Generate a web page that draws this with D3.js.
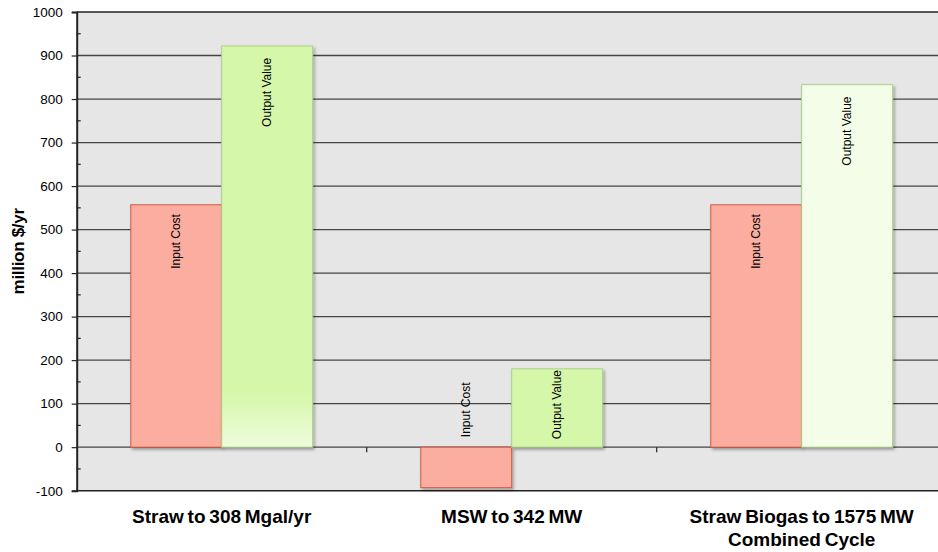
<!DOCTYPE html>
<html>
<head>
<meta charset="utf-8">
<script src="https://cdn.jsdelivr.net/npm/d3@7"></script>
<style>
  html, body { margin: 0; padding: 0; background: #ffffff; }
  svg { display: block; font-family: "Liberation Sans", Arial, sans-serif; }
</style>
</head>
<body>
<svg id="chart" width="938" height="552"></svg>
<script>
// Annual input cost vs. output value for three conversion pathways
const categories = [
  ["Straw to 308 Mgal/yr"],
  ["MSW to 342 MW"],
  ["Straw Biogas to 1575 MW", "Combined Cycle"]
];
const inputCost = [557, -93, 557];
const outputValue = [922, 180, 833];
const seriesNames = ["Input Cost", "Output Value"];
const yTicks = [-100, 0, 100, 200, 300, 400, 500, 600, 700, 800, 900, 1000];
const yTitle = "million $/yr";

const svg = d3.select("#chart");
const W = 938, H = 552;
const plot = { left: 76.7, right: 946.7, top: 12, bottom: 490.7 };

const y = d3.scaleLinear().domain([-100, 1000]).range([plot.bottom, plot.top]);
const x0 = d3.scaleBand().domain(d3.range(categories.length)).range([plot.left, plot.right]);
const bw = x0.bandwidth();
const x1 = d3.scaleBand().domain(seriesNames)
  .range([bw * 0.1865, bw * 0.8135]);

const defs = svg.append("defs");
const sh = defs.append("filter").attr("id", "shadow")
  .attr("x", "-10%").attr("y", "-10%").attr("width", "130%").attr("height", "130%");
sh.append("feDropShadow").attr("dx", 1.5).attr("dy", 2).attr("stdDeviation", 1.5)
  .attr("flood-color", "#000").attr("flood-opacity", 0.35);

const grad = defs.append("linearGradient").attr("id", "fadeGreen")
  .attr("x1", 0).attr("y1", 0).attr("x2", 0).attr("y2", 1);
grad.append("stop").attr("offset", "0.86").attr("stop-color", "#d5f7a9");
grad.append("stop").attr("offset", "1").attr("stop-color", "#eefcdd");

// plot background
svg.append("rect")
  .attr("x", plot.left).attr("y", plot.top)
  .attr("width", plot.right - plot.left).attr("height", plot.bottom - plot.top)
  .attr("fill", "#e6e6e6");

// horizontal gridlines
svg.append("g").selectAll("line")
  .data(yTicks.filter(t => t > -100 && t < 1000))
  .join("line")
  .attr("x1", plot.left).attr("x2", plot.right)
  .attr("y1", d => y(d)).attr("y2", d => y(d))
  .attr("stroke", "#444").attr("stroke-width", 1.3);

// top and bottom frame
svg.append("line").attr("x1", plot.left).attr("x2", plot.right)
  .attr("y1", plot.top).attr("y2", plot.top).attr("stroke", "#222").attr("stroke-width", 1.6);
svg.append("line").attr("x1", plot.left).attr("x2", plot.right)
  .attr("y1", plot.bottom).attr("y2", plot.bottom).attr("stroke", "#222").attr("stroke-width", 1.6);

// bars
const fills = (s, i) => {
  if (s === "Input Cost") return "#fbad9f";
  if (i === 0) return "url(#fadeGreen)";
  if (i === 2) return "#f3fde8";
  return "#d5f7a9";
};
const strokes = s => s === "Input Cost" ? "#cd5a43" : "#aed08a";

const rows = [];
categories.forEach((c, i) => {
  rows.push({ i, s: "Input Cost", v: inputCost[i] });
  rows.push({ i, s: "Output Value", v: outputValue[i] });
});

const barG = svg.append("g");
barG.selectAll("rect").data(rows).join("rect")
  .attr("x", d => x0(d.i) + x1(d.s))
  .attr("width", x1.bandwidth())
  .attr("y", d => y(Math.max(0, d.v)))
  .attr("height", d => Math.abs(y(d.v) - y(0)))
  .attr("fill", d => fills(d.s, d.i))
  .attr("stroke", d => strokes(d.s))
  .attr("stroke-width", 1)
  .attr("filter", "url(#shadow)");

// rotated series labels inside the bars
const labelG = svg.append("g");
labelG.selectAll("text").data(rows).join("text")
  .attr("transform", d => {
    const cx = x0(d.i) + x1(d.s) + x1.bandwidth() / 2 + 4;
    const textLen = d.s === "Input Cost" ? 55 : 72;
    let startY;
    if (d.v <= 0) {
      startY = y(0) - 10;
    } else {
      startY = y(d.v) + 9 + textLen;
      if (startY > y(0) - 8) startY = y(0) - 8;
    }
    return `translate(${cx},${startY}) rotate(-90)`;
  })
  .attr("text-anchor", "start")
  .attr("font-size", 12)
  .attr("fill", "#000")
  .text(d => d.s);

// category ticks on the zero line
svg.append("g").selectAll("line")
  .data(d3.range(1, categories.length))
  .join("line")
  .attr("x1", d => x0(d)).attr("x2", d => x0(d))
  .attr("y1", y(0)).attr("y2", y(0) + 5)
  .attr("stroke", "#222").attr("stroke-width", 1.2);

// left value axis
const yAxis = d3.axisLeft(y).tickValues(yTicks).tickSize(5).tickPadding(9)
  .tickFormat(d => String(d));
const ya = svg.append("g").attr("transform", `translate(${plot.left},0)`).call(yAxis);
ya.select(".domain").attr("stroke", "#222").attr("stroke-width", 2);
ya.selectAll(".tick line").attr("stroke", "#222").attr("stroke-width", 1.2);
ya.selectAll("text").attr("font-size", 13.5).attr("font-family", "Liberation Sans, Arial, sans-serif")
  .attr("fill", "#000");

// minor ticks on the value axis
svg.append("g").selectAll("line")
  .data(d3.range(-50, 1000, 100))
  .join("line")
  .attr("x1", plot.left).attr("x2", plot.left + 4)
  .attr("y1", d => y(d)).attr("y2", d => y(d))
  .attr("stroke", "#222").attr("stroke-width", 1.2);

// axis title
svg.append("text")
  .attr("transform", `translate(24,${(plot.top + plot.bottom) / 2}) rotate(-90)`)
  .attr("text-anchor", "middle")
  .attr("font-size", 17).attr("font-weight", "bold").attr("letter-spacing", -0.3)
  .text(yTitle);

// category labels
const catG = svg.append("g");
categories.forEach((lines, i) => {
  const t = catG.append("text")
    .attr("x", x0(i) + bw / 2)
    .attr("y", 523)
    .attr("text-anchor", "middle")
    .attr("font-size", 19).attr("font-weight", "bold")
    .attr("word-spacing", -1.5)
    .attr("fill", "#000");
  lines.forEach((ln, k) => {
    t.append("tspan").attr("x", x0(i) + bw / 2).attr("dy", k === 0 ? 0 : 23).text(ln);
  });
});
</script>
</body>
</html>
